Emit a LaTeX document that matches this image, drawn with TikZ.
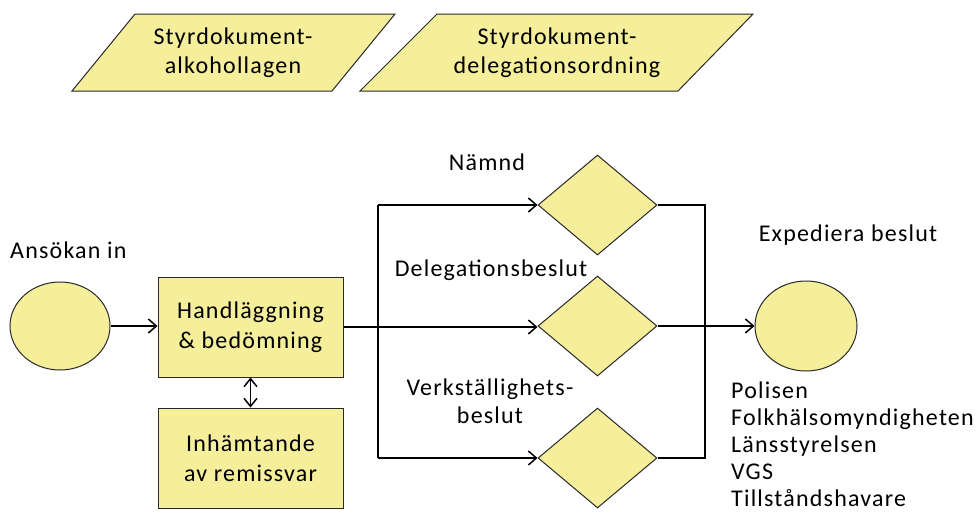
\documentclass[tikz,border=0pt]{standalone}
\usepackage{fontspec}
\setmainfont{Carlito}[LetterSpace=5]
\usetikzlibrary{shapes.geometric,arrows.meta}
\definecolor{flowfill}{RGB}{245,238,155}
\definecolor{flowline}{RGB}{40,40,40}
\tikzset{
  shp/.style={draw=flowline, line width=1pt, fill=flowfill},
  box/.style={shp, rectangle, minimum width=185pt, minimum height=100pt, inner sep=0pt, align=center, font=\fontsize{24}{30}\selectfont},
  oval/.style={shp, ellipse, inner sep=0pt},
  dia/.style={shp, diamond, minimum width=119pt, minimum height=100pt, inner sep=0pt},
  lbl/.style={inner sep=0pt, align=center, font=\fontsize{24}{27.5}\selectfont},
  conn/.style={draw=black, line width=1.4pt},
  arr/.style={conn, -{Straight Barb[length=8pt,width=14pt,line width=1.5pt]}},
  darr/.style={conn, {Straight Barb[length=8pt,width=13pt,line width=1.5pt]}-{Straight Barb[length=8pt,width=13pt,line width=1.5pt]}},
}
\begin{document}
\begin{tikzpicture}[x=1pt,y=-1pt]
\useasboundingbox (0,0) rectangle (979,515);
% parallelograms
\draw[shp] (135,14) -- (395,14) -- (332,91) -- (72,91) -- cycle;
\node[lbl, font=\fontsize{24}{29}\selectfont] (sd1) at (233,53) {Styrdokument-\\alkohollagen};
\draw[shp] (437,14) -- (753,14) -- (678,91) -- (360,91) -- cycle;
\node[lbl, font=\fontsize{24}{29}\selectfont] (sd2) at (557,53) {Styrdokument-\\delegationsordning};
% main nodes
\node[oval, minimum width=100pt, minimum height=88pt] (start) at (60,326) {};
\node[lbl, anchor=west] (startlbl) at (10,250) {Ansökan in};
\node[box] (hand) at (250.5,327) {Handläggning\\\& bedömning};
\node[box] (inh) at (250.5,458) {Inhämtande\\av remissvar};
\node[dia] (d1) at (597.5,205) {};
\node[dia] (d2) at (597.5,326) {};
\node[dia] (d3) at (597.5,458) {};
\node[oval, minimum width=102pt, minimum height=90pt] (end) at (806,326) {};
% labels
\node[lbl] (l1) at (487,162) {Nämnd};
\node[lbl] (l2) at (491,270) {Delegationsbeslut};
\node[lbl] (l3) at (490,401) {Verkställighets-\\beslut};
\node[lbl] (l4) at (848,235) {Expediera beslut};
\node[lbl, align=left, anchor=north west, font=\fontsize{24}{27}\selectfont] (l5) at (731,382) {Polisen\\Folkhälsomyndigheten\\Länsstyrelsen\\VGS\\Tillståndshavare};
% coordinates
\coordinate (bt) at (378,205);
\coordinate (bb) at (378,458);
\coordinate (rt) at (705,205);
\coordinate (rb) at (705,458);
% connectors
\draw[arr] (start.east) -- (hand.west |- start.east);
\draw[darr] (hand.south) -- (inh.north);
\draw[arr] (hand.east) -- (d2.west |- hand.east);
\draw[conn] (bt) -- (bb);
\draw[arr] (bt) -- (d1.west);
\draw[arr] (bb) -- (d3.west);
\draw[conn] (d1.east) -- (rt) -- (rb) -- (d3.east);
\draw[arr] (d2.east) -- (end.west);
\end{tikzpicture}
\end{document}
